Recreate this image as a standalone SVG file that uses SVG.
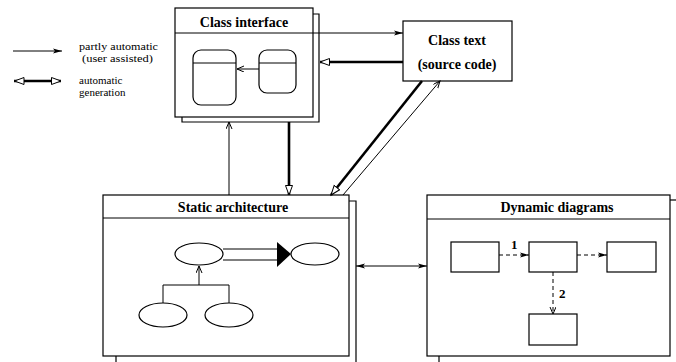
<svg xmlns="http://www.w3.org/2000/svg" width="676" height="362" viewBox="0 0 676 362">
  <style>
    .box { fill: #fff; stroke: #000; stroke-width: 1.2; }
    .sh { fill: none; stroke: #000; stroke-width: 1.2; }
    .ln { fill: none; stroke: #000; stroke-width: 1; }
    .thick { fill: none; stroke: #000; stroke-width: 2.6; }
    .dash { fill: none; stroke: #000; stroke-width: 1; stroke-dasharray: 4 3; }
    .title { font-family: "Liberation Serif", "Times New Roman", serif; font-weight: bold; font-size: 14px; text-anchor: middle; }
    .lbl { font-family: "Liberation Serif", "Times New Roman", serif; font-size: 11px; }
    .num { font-family: "Liberation Serif", "Times New Roman", serif; font-weight: bold; font-size: 13px; }
  </style>
  <defs>
    <marker id="thin" markerUnits="userSpaceOnUse" markerWidth="12" markerHeight="8" refX="9" refY="3" orient="auto">
      <path d="M0,0.6 L9,3 L0,5.4 L2,3 Z" fill="#000"/>
    </marker>
    <marker id="thinStart" markerUnits="userSpaceOnUse" markerWidth="12" markerHeight="8" refX="0" refY="3" orient="auto">
      <path d="M9,0.6 L0,3 L9,5.4 L7,3 Z" fill="#000"/>
    </marker>
    <marker id="vee" markerUnits="userSpaceOnUse" markerWidth="10" markerHeight="8" refX="7" refY="3" orient="auto">
      <path d="M0,0 L7,3 L0,6" fill="none" stroke="#000" stroke-width="1"/>
    </marker>
    <marker id="tri" markerUnits="userSpaceOnUse" markerWidth="12" markerHeight="10" refX="10" refY="4" orient="auto">
      <path d="M0.5,0.5 L10,4 L0.5,7.5 Z" fill="#fff" stroke="#000" stroke-width="1"/>
    </marker>
    <marker id="triStart" markerUnits="userSpaceOnUse" markerWidth="12" markerHeight="10" refX="0" refY="4" orient="auto">
      <path d="M10,0.5 L0.5,4 L10,7.5 Z" fill="#fff" stroke="#000" stroke-width="1"/>
    </marker>
  </defs>

  <!-- legend -->
  <g id="legend">
    <line class="ln" x1="13" y1="51" x2="62" y2="51" marker-end="url(#thin)"/>
    <text class="lbl" x="79" y="49.5" textLength="79" lengthAdjust="spacingAndGlyphs">partly automatic</text>
    <text class="lbl" x="82" y="62" textLength="71" lengthAdjust="spacingAndGlyphs">(user assisted)</text>
    <line class="thick" x1="14" y1="81" x2="61" y2="81" marker-start="url(#triStart)" marker-end="url(#tri)"/>
    <text class="lbl" x="79" y="83.5">automatic</text>
    <text class="lbl" x="79" y="96">generation</text>
  </g>

  <!-- class interface -->
  <g id="class-interface">
    <polyline class="sh" points="313,14 319,14 319,122 182,122 182,117"/>
    <rect class="box" x="175" y="8" width="138" height="109"/>
    <line class="ln" x1="175" y1="33" x2="313" y2="33"/>
    <text class="title" x="244" y="27">Class interface</text>
    <rect class="box" x="193" y="50" width="43" height="55" rx="8"/>
    <line class="ln" x1="193" y1="63" x2="236" y2="63"/>
    <rect class="box" x="259" y="50" width="37" height="43" rx="8"/>
    <line class="ln" x1="259" y1="63" x2="296" y2="63"/>
    <line class="ln" x1="259" y1="69" x2="237" y2="69" marker-end="url(#vee)"/>
  </g>

  <!-- class text -->
  <g id="class-text">
    <rect class="box" x="403" y="21" width="109" height="60"/>
    <text class="title" x="457" y="45">Class text</text>
    <text class="title" x="457" y="69">(source code)</text>
  </g>

  <!-- static architecture -->
  <g id="static-architecture">
    <polyline class="sh" points="349,201 356,201 356,362"/>
    <line class="sh" x1="116" y1="356" x2="116" y2="362"/>
    <rect class="box" x="103" y="195" width="246" height="161"/>
    <line class="ln" x1="103" y1="218" x2="349" y2="218"/>
    <text class="title" x="233" y="212">Static architecture</text>
    <ellipse class="box" cx="199" cy="254" rx="24" ry="11"/>
    <ellipse class="box" cx="315" cy="254" rx="24" ry="11"/>
    <ellipse class="box" cx="163" cy="315" rx="24" ry="12"/>
    <ellipse class="box" cx="229" cy="315" rx="24" ry="12"/>
    <line class="ln" x1="223" y1="249" x2="277" y2="249"/>
    <line class="ln" x1="223" y1="260" x2="277" y2="260"/>
    <polygon points="277,242 291,254 277,267" fill="#000"/>
    <polyline class="ln" points="163,303 163,285 229,285 229,303"/>
    <line class="ln" x1="199" y1="285" x2="199" y2="266" marker-end="url(#vee)"/>
  </g>

  <!-- dynamic diagrams -->
  <g id="dynamic-diagrams">
    <line class="sh" x1="670" y1="200" x2="676" y2="200"/>
    <line class="sh" x1="439" y1="356" x2="439" y2="362"/>
    <rect class="box" x="427" y="195" width="243" height="161"/>
    <line class="ln" x1="427" y1="219" x2="670" y2="219"/>
    <text class="title" x="557" y="212">Dynamic diagrams</text>
    <rect class="box" x="451" y="242" width="48" height="30"/>
    <rect class="box" x="529" y="242" width="48" height="30"/>
    <rect class="box" x="607" y="242" width="49" height="30"/>
    <rect class="box" x="529" y="314" width="48" height="31"/>
    <line class="dash" x1="499" y1="255" x2="529" y2="255" marker-end="url(#thin)"/>
    <line class="dash" x1="577" y1="255" x2="607" y2="255" marker-end="url(#thin)"/>
    <line class="dash" x1="553" y1="272" x2="553" y2="314" marker-end="url(#vee)"/>
    <text class="num" x="511" y="249">1</text>
    <text class="num" x="559" y="298">2</text>
  </g>

  <!-- connectors -->
  <g id="connectors">
    <line class="ln" x1="313" y1="33" x2="403" y2="33" marker-end="url(#thin)"/>
    <line class="thick" x1="403" y1="62" x2="320" y2="62" marker-end="url(#tri)"/>
    <line class="ln" x1="229" y1="195" x2="229" y2="122" marker-end="url(#vee)"/>
    <line class="thick" x1="289" y1="122" x2="289" y2="195" marker-end="url(#tri)"/>
    <line class="thick" x1="422" y1="81" x2="331" y2="195" marker-end="url(#tri)"/>
    <line class="ln" x1="343" y1="195" x2="440" y2="81" marker-end="url(#vee)"/>
    <line class="ln" x1="356" y1="266" x2="427" y2="266" stroke="#444" stroke-width="1.3" marker-start="url(#thinStart)" marker-end="url(#thin)"/>
  </g>
</svg>
